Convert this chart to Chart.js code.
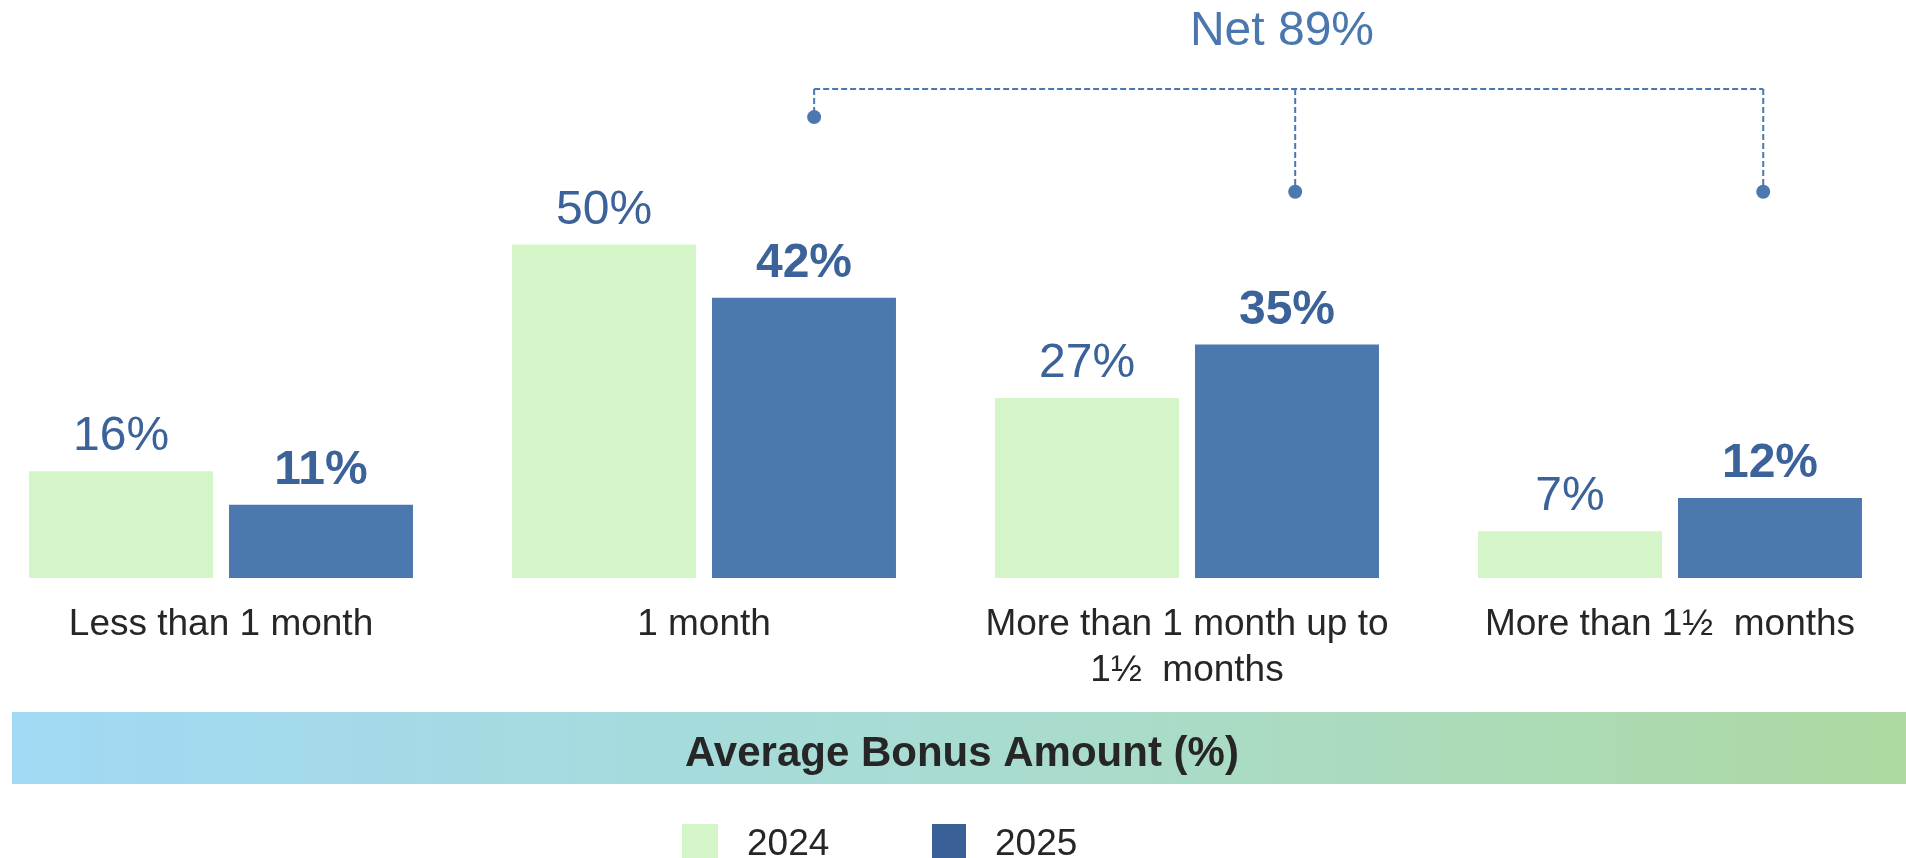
<!DOCTYPE html>
<html>
<head>
<meta charset="utf-8">
<title>Average Bonus Amount</title>
<script src="https://cdn.jsdelivr.net/npm/chart.js@4.4.1/dist/chart.umd.min.js"></script>
<style>
  html, body { margin: 0; padding: 0; background: #ffffff; overflow: hidden; }
  #wrap { position: relative; width: 1906px; height: 858px; }
</style>
</head>
<body>
<div id="wrap"><canvas id="chart"></canvas></div>
<script>
'use strict';

// data
const categories = [
  'Less than 1 month',
  '1 month',
  ['More than 1 month up to', '1\u00bd  months'],
  'More than 1\u00bd  months'
];
const seriesNames = ['2024', '2025'];
const values2024 = [16, 50, 27, 7];
const values2025 = [11, 42, 35, 12];
const netLabel = 'Net 89%';
const bandTitle = 'Average Bonus Amount (%)';

// bracket anchors, in axis units (x = category index, y = percent)
const bracketX = [1.228, 2.224, 3.193];
const bracketDotY = [69.1, 57.9, 57.9];
const bracketTopY = 73.3;

const FONT = "Arial, 'Liberation Sans', sans-serif";
const GREEN = '#d3f5c7';
const BLUE = '#4b78ae';
const LABEL_BLUE = '#3b6299';
const TEXT_DARK = '#262626';

let canvasElem = document.getElementById('chart');

const valueLabels = {
  id: 'valueLabels',
  afterDatasetsDraw(chart) {
    const ctx = chart.ctx;
    ctx.save();
    ctx.fillStyle = LABEL_BLUE;
    ctx.textAlign = 'center';
    ctx.textBaseline = 'alphabetic';
    chart.data.datasets.forEach((ds, di) => {
      const meta = chart.getDatasetMeta(di);
      ctx.font = (di === 1 ? 'bold ' : '') + '48px ' + FONT;
      meta.data.forEach((bar, i) => {
        ctx.fillText(ds.data[i].y + '%', bar.x, bar.y - 21);
      });
    });
    ctx.restore();
  }
};

const decorations = {
  id: 'decorations',
  afterDraw(chart) {
    const ctx = chart.ctx;
    const xs = chart.scales.x;
    const ys = chart.scales.y;
    ctx.save();

    // Net bracket
    const topY = ys.getPixelForValue(bracketTopY);
    const px = bracketX.map(v => xs.getPixelForValue(v));
    ctx.strokeStyle = BLUE;
    ctx.lineWidth = 2;
    ctx.setLineDash([6, 3]);
    ctx.beginPath();
    ctx.moveTo(px[0], topY);
    ctx.lineTo(px[2], topY);
    px.forEach((x, i) => {
      ctx.moveTo(x, topY);
      ctx.lineTo(x, ys.getPixelForValue(bracketDotY[i]));
    });
    ctx.stroke();
    ctx.setLineDash([]);
    ctx.fillStyle = BLUE;
    px.forEach((x, i) => {
      ctx.beginPath();
      ctx.arc(x, ys.getPixelForValue(bracketDotY[i]), 7, 0, Math.PI * 2);
      ctx.fill();
    });
    ctx.fillStyle = '#4a77ae';
    ctx.font = '48px ' + FONT;
    ctx.textAlign = 'center';
    ctx.textBaseline = 'alphabetic';
    ctx.fillText(netLabel, 1282, 45);

    // gradient band with title
    const grad = ctx.createLinearGradient(12, 0, 1906, 0);
    grad.addColorStop(0, '#a2d9f5');
    grad.addColorStop(0.5, '#a8dcd2');
    grad.addColorStop(1, '#aed9a2');
    ctx.fillStyle = grad;
    ctx.fillRect(12, 712, 1894, 72);
    ctx.fillStyle = TEXT_DARK;
    ctx.font = 'bold 42px ' + FONT;
    ctx.fillText(bandTitle, 962, 766);

    // legend
    const legendBoxes = [[682, 36, GREEN], [932, 34, '#385f96']];
    ctx.font = '37px ' + FONT;
    ctx.textAlign = 'left';
    legendBoxes.forEach((b, i) => {
      ctx.fillStyle = b[2];
      ctx.fillRect(b[0], 824, b[1], 36);
      ctx.fillStyle = TEXT_DARK;
      ctx.fillText(seriesNames[i], b[0] + b[1] + 29, 855);
    });
    ctx.restore();
  }
};

function renderChart() {
  let chartConfig = {
    type: 'bar',
    data: {
      datasets: [{
        label: seriesNames[0],
        data: values2024.map((v, i) => ({ x: i, y: v })),
        backgroundColor: GREEN,
        borderWidth: 0
      },
      {
        label: seriesNames[1],
        data: values2025.map((v, i) => ({ x: i, y: v })),
        backgroundColor: BLUE,
        borderWidth: 0
      }]
    },
    options: {
      responsive: true,
      maintainAspectRatio: false,
      animation: false,
      devicePixelRatio: 1,
      categoryPercentage: 0.828,
      barPercentage: 0.92,
      layout: { padding: 0 },
      plugins: {
        legend: { display: false },
        tooltip: { enabled: false }
      },
      scales: {
        x: {
          type: 'linear',
          offset: false,
          min: -0.4576,
          max: 3.4886,
          grid: { display: false, drawTicks: false },
          border: { display: false },
          afterBuildTicks: (scale) => {
            scale.ticks = categories.map((c, i) => ({ value: i }));
          },
          afterFit: (scale) => { scale.height = 280; },
          ticks: {
            autoSkip: false,
            maxRotation: 0,
            minRotation: 0,
            padding: 24,
            color: TEXT_DARK,
            font: { family: FONT, size: 37, lineHeight: 1.24 },
            callback: (value) => categories[value]
          }
        },
        y: {
          display: false,
          min: 0,
          max: 86.66
        }
      }
    },
    plugins: [valueLabels, decorations]
  };
  new Chart(canvasElem, chartConfig);
}

renderChart();
</script>
</body>
</html>
